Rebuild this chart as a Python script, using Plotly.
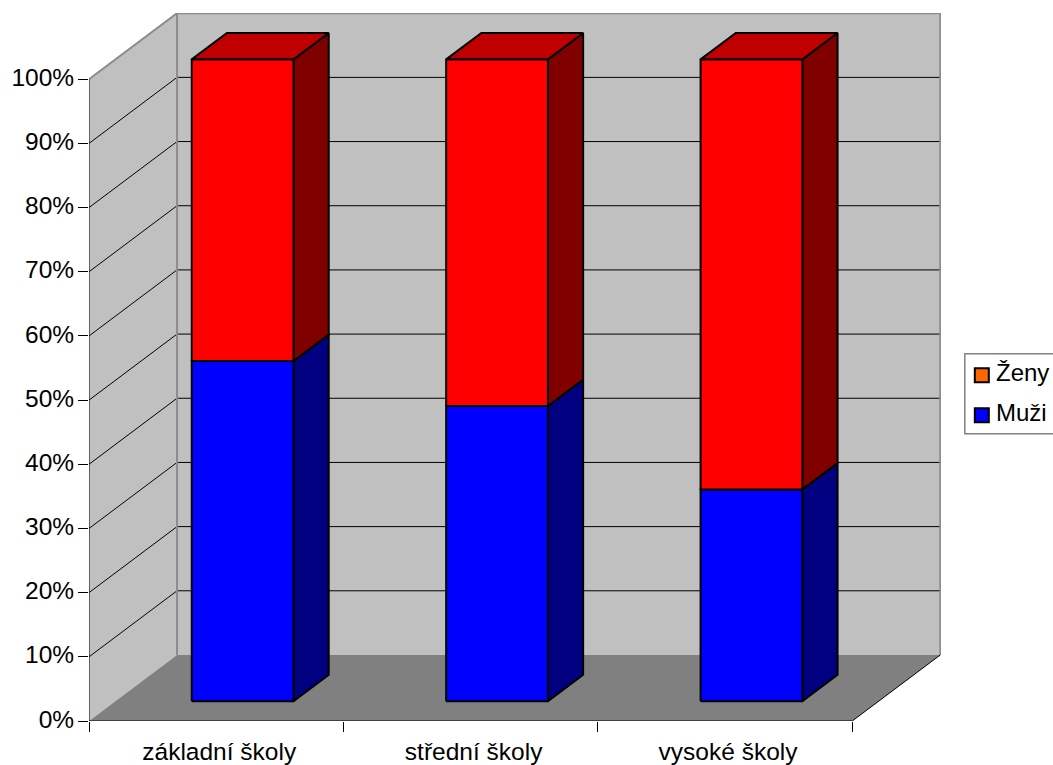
import plotly.graph_objects as go

categories = ["základní školy", "střední školy", "vysoké školy"]
series_names = ["Ženy", "Muži"]
muzi = [53, 46, 33]
zeny = [47, 54, 67]
y_ticks = [0, 10, 20, 30, 40, 50, 60, 70, 80, 90, 100]

WIDTH, HEIGHT = 1053, 765
LEFT, RIGHT, TOP, BOTTOM = 89.0, 940.7, 13.0, 720.7
PX_PER_CAT = (852.0 - LEFT) / len(categories)
PX_PER_PCT = 6.415
DEPTH_X = 88.0 / PX_PER_CAT      # wall depth in category units
DEPTH_Y = 66.0 / PX_PER_PCT      # wall depth in percent units
BAR_FROM, BAR_TO = 0.3, 0.7      # bar footprint inside a category slot
BAR_NEAR, BAR_FAR = 0.3, 0.7     # bar depth between front plane and back wall

FONT = "Liberation Sans"
FONT_SIZE = 24
TICK_FONT_SIZE = 24.5
WALL, FLOOR, EDGE = "#C0C0C0", "#808080", "#8C8C8C"
BLUE = dict(front="#0000FF", side="#000080", top="#0000BE")
RED = dict(front="#FF0000", side="#800000", top="#C00000")
ZENY_KEY, MUZI_KEY = "#FF6600", "#0000FF"


def project(x, y, d):
    """Oblique projection: d = 0 on the front plane, d = 1 on the back wall."""
    return x + d * DEPTH_X, y + d * DEPTH_Y


def polygon(points, fill, line_color, width, name):
    xy = [project(*p) for p in points]
    xs = [p[0] for p in xy] + [xy[0][0]]
    ys = [p[1] for p in xy] + [xy[0][1]]
    return go.Scatter(
        x=xs, y=ys, mode="lines" if width else "none", fill="toself", fillcolor=fill,
        line=dict(color=line_color, width=width), name=name,
        hoverinfo="skip", showlegend=False,
    )


def polyline(segments, color, width, name):
    xs, ys = [], []
    for seg in segments:
        for p in seg:
            x, y = project(*p)
            xs.append(x)
            ys.append(y)
        xs.append(None)
        ys.append(None)
    return go.Scatter(x=xs, y=ys, mode="lines", line=dict(color=color, width=width),
                      name=name, hoverinfo="skip", showlegend=False)


n = len(categories)
fig = go.Figure()

# Walls and floor of the 3D box
fig.add_trace(polygon([(0, 0, 0), (0, 100, 0), (0, 100, 1), (0, 0, 1)], WALL, WALL, 0, "side wall"))
fig.add_trace(polygon([(0, 0, 1), (0, 100, 1), (n, 100, 1), (n, 0, 1)], WALL, WALL, 0, "back wall"))
fig.add_trace(polygon([(0, 0, 0), (n, 0, 0), (n, 0, 1), (0, 0, 1)], FLOOR, FLOOR, 0, "floor"))

# Gridlines run along the side wall and across the back wall
grid = []
for t in y_ticks[1:-1]:
    grid.append([(0, t, 0), (0, t, 1), (n, t, 1)])
fig.add_trace(polyline(grid, "#000000", 1, "gridlines"))

# Box edges
fig.add_trace(polyline([[(0, 100, 0), (0, 100, 1), (n, 100, 1), (n, 0, 1)],
                        [(0, 100, 1), (0, 0, 1)]], EDGE, 2, "wall edges"))
fig.add_trace(polyline([[(0, 0, 0), (0, 100, 0)],
                        [(0, 0, 0), (n, 0, 0), (n, 0, 1)]], "#000000", 1, "axes"))

# Stacked bars: each segment shows its front and side, the top segment also its lid
for i in range(n):
    x0, x1 = i + BAR_FROM, i + BAR_TO
    base = 0
    for value, colors, label, is_top in ((muzi[i], BLUE, series_names[1], False),
                                         (zeny[i], RED, series_names[0], True)):
        y0, y1 = base, base + value
        fig.add_trace(polygon([(x1, y0, BAR_NEAR), (x1, y1, BAR_NEAR), (x1, y1, BAR_FAR), (x1, y0, BAR_FAR)],
                              colors["side"], "#000000", 2, label + " side"))
        if is_top:
            fig.add_trace(polygon([(x0, y1, BAR_NEAR), (x1, y1, BAR_NEAR), (x1, y1, BAR_FAR), (x0, y1, BAR_FAR)],
                                  colors["top"], "#000000", 2, label + " top"))
        fig.add_trace(polygon([(x0, y0, BAR_NEAR), (x1, y0, BAR_NEAR), (x1, y1, BAR_NEAR), (x0, y1, BAR_NEAR)],
                              colors["front"], "#000000", 2, label))
        base = y1


def paper_x(px):
    return (px - LEFT) / (RIGHT - LEFT)


def paper_y(py):
    return (BOTTOM - py) / (BOTTOM - TOP)


# Legend panel, drawn in page pixels so its spacing can be set exactly
shapes = [dict(type="rect", xref="paper", yref="paper", layer="above",
               x0=paper_x(964.5), x1=paper_x(1060), y0=paper_y(353.5), y1=paper_y(433.5),
               line=dict(color="#808080", width=1.5), fillcolor="#FFFFFF")]
annotations = []
for name, color, cy in ((series_names[0], ZENY_KEY, 375), (series_names[1], MUZI_KEY, 415)):
    shapes.append(dict(type="rect", xref="paper", yref="paper", layer="above",
                       x0=paper_x(974.5), x1=paper_x(988.5), y0=paper_y(cy - 7), y1=paper_y(cy + 7),
                       line=dict(color="#000000", width=2), fillcolor=color))
    annotations.append(dict(text=name, xref="paper", yref="paper", showarrow=False,
                            x=paper_x(994), y=paper_y(cy - 3), xanchor="left", yanchor="middle",
                            font=dict(family=FONT, size=FONT_SIZE, color="#000000")))

fig.update_layout(
    width=WIDTH, height=HEIGHT, autosize=False,
    margin=dict(l=LEFT, r=WIDTH - RIGHT, t=TOP, b=HEIGHT - BOTTOM, pad=0, autoexpand=False),
    paper_bgcolor="#FFFFFF", plot_bgcolor="rgba(0,0,0,0)",
    showlegend=False, shapes=shapes, annotations=annotations,
    font=dict(family=FONT, size=FONT_SIZE, color="#000000"),
    xaxis=dict(
        range=[0, (RIGHT - LEFT) / PX_PER_CAT], showgrid=False, zeroline=False, showline=False,
        automargin=False, ticklabelshift=3, tickfont=dict(size=TICK_FONT_SIZE),
        tickmode="array", tickvals=[i + 0.5 for i in range(n)], ticktext=categories,
        ticks="outside", ticklen=9, tickcolor="rgba(0,0,0,0)", tickwidth=1,
        minor=dict(tickmode="array", tickvals=list(range(n + 1)), ticks="outside",
                   ticklen=10, tickcolor="#000000", tickwidth=1, showgrid=False),
    ),
    yaxis=dict(
        range=[0, (BOTTOM - TOP) / PX_PER_PCT], showgrid=False, zeroline=False, showline=False,
        automargin=False, ticklabelshift=-2, ticklabelstandoff=-1, tickfont=dict(size=TICK_FONT_SIZE),
        tickmode="array", tickvals=y_ticks, ticktext=[f"{t}%" for t in y_ticks],
        ticks="outside", ticklen=10, tickcolor="#000000", tickwidth=1,
    ),
)

fig.write_html("out.html")
